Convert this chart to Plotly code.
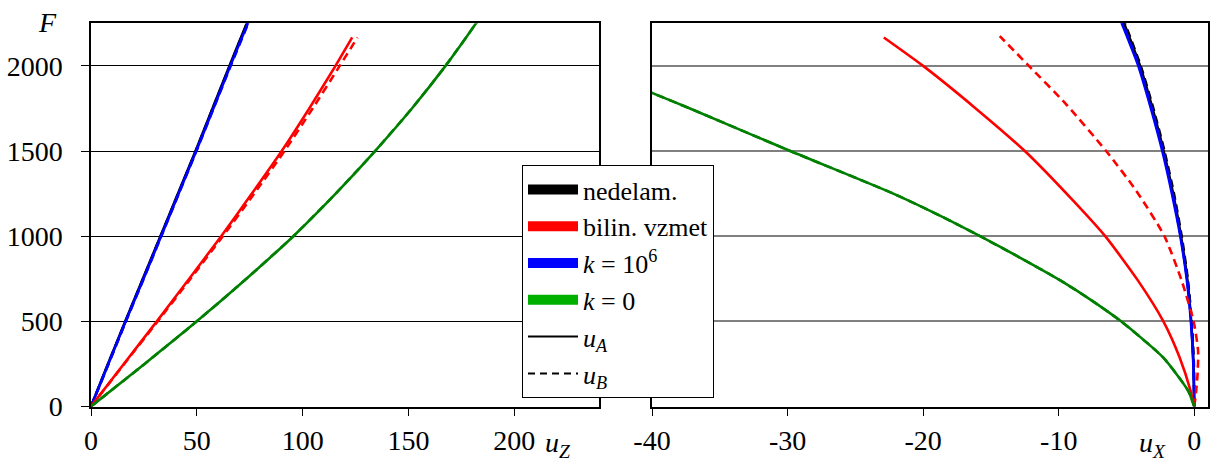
import plotly.graph_objects as go

# ---------------- data ----------------
# Left panel: u_Z versus F
F_nd = [0, 250, 500, 750, 1000, 1250, 1500, 1750, 2000, 2250, 2300]
uZ_nd_A = [0, 8.0, 16.2, 24.5, 32.8, 41.1, 49.4, 57.4, 65.4, 73.6, 75.2]
uZ_nd_B = [0, 8.1, 16.3, 24.6, 32.9, 41.2, 49.5, 57.5, 65.6, 73.8, 75.4]
uZ_k6_A = [0, 8.2, 16.4, 24.8, 33.1, 41.4, 49.7, 57.8, 65.8, 74.1, 75.8]
uZ_k6_B = [0, 8.3, 16.5, 24.9, 33.2, 41.5, 49.8, 57.9, 66.0, 74.3, 76.0]

F_bil = [0, 250, 500, 750, 1000, 1250, 1500, 1750, 2000, 2167]
uZ_bil_A = [0, 15.5, 31.1, 46.4, 61.5, 76.0, 90.1, 103.1, 115.5, 123.4]
uZ_bil_B = [0, 15.7, 31.5, 47.0, 62.3, 77.1, 91.4, 104.7, 117.5, 125.9]

F_k0 = [0, 250, 500, 750, 1000, 1250, 1500, 1750, 2000, 2250, 2400]
uZ_k0_A = [0, 25.3, 50.0, 73.4, 95.6, 115.6, 134.2, 151.6, 167.5, 181.9, 190.0]
uZ_k0_B = [0, 25.3, 50.0, 73.4, 95.6, 115.6, 134.2, 151.6, 167.5, 181.9, 190.0]

# Right panel: u_X versus F
uX_nd_A = [0, -0.06, -0.23, -0.52, -0.98, -1.56, -2.26, -3.08, -4.00, -5.18, -5.42]
uX_nd_B = [0, -0.03, -0.19, -0.48, -0.93, -1.50, -2.20, -3.02, -3.95, -5.12, -5.36]
uX_k6_A = [0, -0.07, -0.25, -0.56, -1.03, -1.65, -2.36, -3.20, -4.13, -5.35, -5.60]
uX_k6_B = [0, -0.05, -0.22, -0.53, -1.00, -1.60, -2.30, -3.14, -4.07, -5.28, -5.53]

F_bil_XA = [0, 92, 288, 500, 739, 1000, 1210, 1500, 1749, 2000, 2167]
uX_bil_A = [0, -0.27, -1.08, -2.28, -4.15, -6.57, -8.95, -12.5, -16.1, -20.0, -22.9]
F_bil_XB = [0, 100, 200, 330, 500, 739, 1000, 1269, 1500, 1779, 2000, 2175]
uX_bil_B = [0, 0.15, 0.25, 0.28, -0.05, -0.93, -2.2, -4.3, -6.5, -9.5, -12.2, -14.35]

F_k0_X = [0, 92, 288, 500, 622, 739, 876, 1000, 1122, 1250, 1500, 1750, 1841, 1900]
uX_k0_A = [0, -0.45, -2.3, -5.4, -7.55, -9.85, -12.9, -15.8, -18.8, -22.2, -29.8, -37.2, -40.0, -41.8]
uX_k0_B = [0, -0.45, -2.3, -5.4, -7.55, -9.85, -12.9, -15.8, -18.8, -22.2, -29.8, -37.2, -40.0, -41.8]

zTicks = [0, 50, 100, 150, 200]
xTicks = [-40, -30, -20, -10, 0]
xTickText = ["-40", "-30", "-20", "-10", "0"]
fTicks = [0, 500, 1000, 1500, 2000]

names = ["nedelam.", "bilin. vzmet", "<i>k</i> = 10<sup>6</sup>", "<i>k</i> = 0"]
colors = ["#000000", "#ff0000", "#0000ff", "#008000"]
legend_colors = ["#000000", "#ff0000", "#0000ff", "#00b000"]

FONT = "Liberation Serif, Times New Roman, Tinos, DejaVu Serif, serif"
W, H = 1210, 468
LW = 2.6
DASH = "8px,5px"

fig = go.Figure()

def add(x, y, color, dash, xa, ya):
    fig.add_trace(go.Scatter(x=x, y=y, mode="lines", showlegend=False, hoverinfo="skip",
                             line=dict(color=color, width=LW, dash=dash, shape="spline", smoothing=0.6),
                             xaxis=xa, yaxis=ya))

# left panel (drawing order: black, blue, red, green)
add(uZ_nd_A, F_nd, colors[0], "solid", "x", "y")
add(uZ_nd_B, F_nd, colors[0], DASH, "x", "y")
add(uZ_k6_A, F_nd, colors[2], "solid", "x", "y")
add(uZ_k6_B, F_nd, colors[2], DASH, "x", "y")
add(uZ_bil_A, F_bil, colors[1], "solid", "x", "y")
add(uZ_bil_B, F_bil, colors[1], DASH, "x", "y")
add(uZ_k0_A, F_k0, colors[3], "solid", "x", "y")
add(uZ_k0_B, F_k0, colors[3], DASH, "x", "y")

# right panel
add(uX_nd_A, F_nd, colors[0], "solid", "x2", "y2")
add(uX_nd_B, F_nd, colors[0], DASH, "x2", "y2")
add(uX_k6_A, F_nd, colors[2], "solid", "x2", "y2")
add(uX_k6_B, F_nd, colors[2], DASH, "x2", "y2")
add(uX_bil_A, F_bil_XA, colors[1], "solid", "x2", "y2")
add(uX_bil_B, F_bil_XB, colors[1], DASH, "x2", "y2")
add(uX_k0_A, F_k0_X, colors[3], "solid", "x2", "y2")
add(uX_k0_B, F_k0_X, colors[3], DASH, "x2", "y2")

# legend entries
for n, c in zip(names, legend_colors):
    fig.add_trace(go.Scatter(x=[None], y=[None], mode="lines", name=n,
                             line=dict(color=c, width=10), xaxis="x", yaxis="y"))
fig.add_trace(go.Scatter(x=[None], y=[None], mode="lines", name="<i>u<sub>A</sub></i>",
                         line=dict(color="black", width=2), xaxis="x", yaxis="y"))
fig.add_trace(go.Scatter(x=[None], y=[None], mode="lines", name="<i>u<sub>B</sub></i>",
                         line=dict(color="black", width=2, dash="7px,5px"), xaxis="x", yaxis="y"))

ydom = [(H - 406.5) / H, (H - 23.3) / H]
common_x = dict(ticks="outside", ticklen=8, tickwidth=1, tickcolor="black",
                showline=True, mirror=True, linecolor="black", linewidth=1.5,
                showgrid=False, zeroline=False, ticklabelstandoff=0, automargin=False,
                tickfont=dict(family=FONT, size=28, color="black"))

fig.update_layout(
    width=W, height=H,
    margin=dict(l=0, r=0, t=0, b=0, autoexpand=False),
    paper_bgcolor="white", plot_bgcolor="white",
    font=dict(family=FONT, size=27, color="black"),
    xaxis=dict(domain=[91 / W, 599 / W], range=[0, 240], tickvals=zTicks, anchor="y", **common_x),
    yaxis=dict(domain=ydom, range=[0, 2250], tickvals=fTicks, anchor="x",
               ticks="outside", ticklen=8, tickcolor="black", automargin=False,
               showline=True, mirror=True, linecolor="black", linewidth=1.5,
               showgrid=True, gridcolor="black", gridwidth=1, zeroline=False,
               ticklabelstandoff=13, tickfont=dict(family=FONT, size=28, color="black")),
    xaxis2=dict(domain=[652 / W, 1207.7 / W], range=[-40, 0.99], tickvals=xTicks,
                ticktext=xTickText, anchor="y2", **common_x),
    yaxis2=dict(domain=ydom, range=[0, 2250], tickvals=[500, 1000, 1500, 2000], anchor="x2",
                showticklabels=False, ticks="", automargin=False,
                showline=True, mirror=True, linecolor="black", linewidth=1.5,
                showgrid=True, gridcolor="#808080", gridwidth=1.5, zeroline=False),
    legend=dict(x=522 / W, y=1 - 165 / H, xanchor="left", yanchor="top",
                bgcolor="white", bordercolor="black", borderwidth=1,
                font=dict(family=FONT, size=26, color="black"),
                tracegroupgap=0, itemwidth=50),
    showlegend=True,
    annotations=[
        dict(text="<i>F</i>", x=47 / W, y=1 - 22 / H, xref="paper", yref="paper",
             xanchor="center", yanchor="middle",
             showarrow=False, font=dict(family=FONT, size=28, color="black")),
        dict(text="<i>u<sub>Z</sub></i>", x=558 / W, y=1 - 444 / H, xref="paper", yref="paper",
             xanchor="center", yanchor="middle",
             showarrow=False, font=dict(family=FONT, size=28, color="black")),
        dict(text="<i>u<sub>X</sub></i>", x=1152 / W, y=1 - 444 / H, xref="paper", yref="paper",
             xanchor="center", yanchor="middle",
             showarrow=False, font=dict(family=FONT, size=28, color="black")),
    ],
)

fig.write_html("out.html", config={"displayModeBar": False},
               post_script="document.body.style.margin='0px';")
